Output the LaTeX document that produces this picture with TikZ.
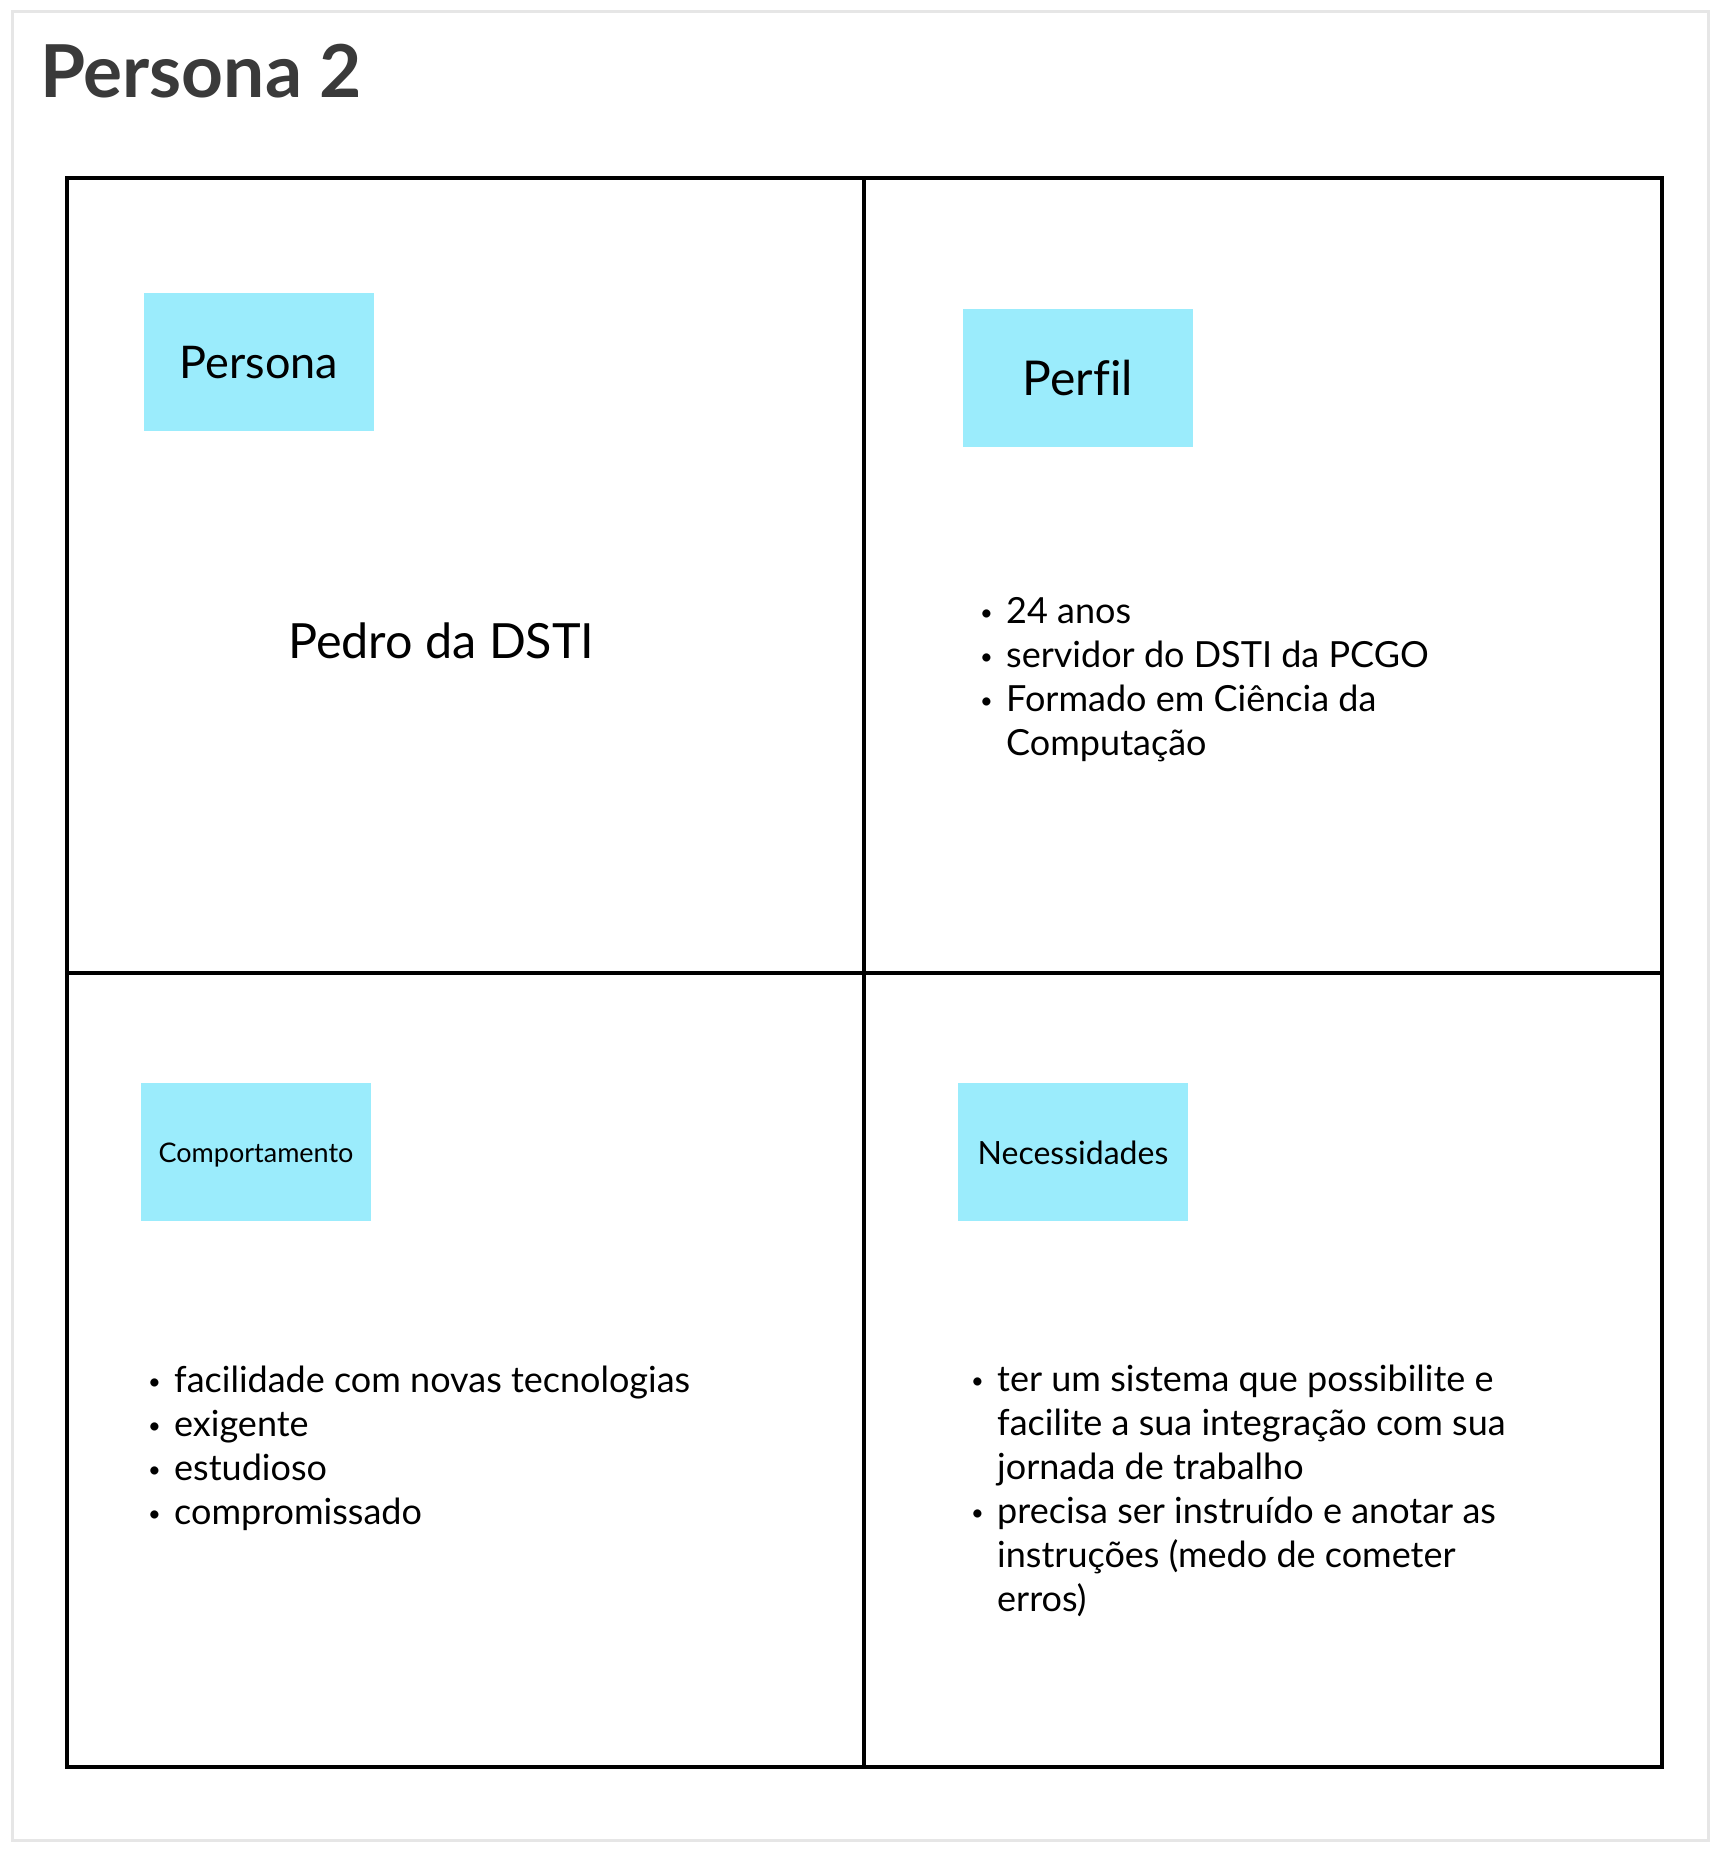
\documentclass[tikz,border=0pt]{standalone}
\usepackage{fontspec}
\setmainfont{Lato}[Ligatures={TeX,NoCommon}]
\definecolor{boxcyan}{RGB}{155,236,252}
\definecolor{titlegray}{RGB}{58,58,58}
\definecolor{framegray}{RGB}{230,230,230}
\tikzset{
  x=1pt, y=-1pt,
  tagbox/.style={fill=boxcyan, draw=none, inner sep=0pt, minimum width=230pt, minimum height=138pt},
  tagtext/.style={inner sep=0pt, anchor=base},
  listtext/.style={inner sep=0pt, anchor=base west, font=\fontsize{36}{44}\selectfont},
  gridline/.style={line width=4pt, draw=black},
}
\newcommand{\bul}{\makebox[28pt][l]{\hspace{2pt}\raisebox{3pt}{\fontsize{22}{22}\selectfont\textbullet}}}
\begin{document}
\begin{tikzpicture}
\useasboundingbox (0,0) rectangle (1720,1852);
\fill[white] (0,0) rectangle (1720,1852);
\draw[framegray, line width=3pt] (12,12) rectangle (1708,1840);

\node[inner sep=0pt, anchor=base west, text=titlegray, font=\fontsize{73}{84}\selectfont\bfseries] (title) at (40,97) {Persona 2};

% grid
\draw[gridline] (67,178) rectangle (1662,1767);
\draw[gridline] (864,178) -- (864,1767);
\draw[gridline] (67,973) -- (1662,973);

% tag boxes
\node[tagbox] (personabox) at (259,362) {};
\node[tagtext, font=\fontsize{45}{52}\selectfont] (personatxt) at (259,378) {Persona};
\node[tagbox] (perfilbox) at (1078,378) {};
\node[tagtext, font=\fontsize{48}{56}\selectfont] (perfiltxt) at (1078,395) {Perfil};
\node[tagbox] (compbox) at (256,1152) {};
\node[tagtext, font=\fontsize{27}{32}\selectfont] (comptxt) at (256,1162) {Comportamento};
\node[tagbox] (necbox) at (1073,1152) {};
\node[tagtext, font=\fontsize{32}{38}\selectfont] (nectxt) at (1073,1164) {Necessidades};

% name
\node[inner sep=0pt, anchor=base west, font=\fontsize{48.5}{56}\selectfont] (pedro) at (288,658) {Pedro da DSTI};

% lists
\node[listtext] (perfillist) at (978,623) {\begin{tabular}[t]{@{}l@{}l@{}}
\bul & 24 anos\\
\bul & servidor do DSTI da PCGO\\
\bul & Formado em Ciência da\\
 & Computação
\end{tabular}};

\node[listtext] (complist) at (146,1392) {\begin{tabular}[t]{@{}l@{}l@{}}
\bul & facilidade com novas tecnologias\\
\bul & exigente\\
\bul & estudioso\\
\bul & compromissado
\end{tabular}};

\node[listtext] (neclist) at (969,1391) {\begin{tabular}[t]{@{}l@{}l@{}}
\bul & ter um sistema que possibilite e\\
 & facilite a sua integração com sua\\
 & jornada de trabalho\\
\bul & precisa ser instruído e anotar as\\
 & instruções (medo de cometer\\
 & erros)
\end{tabular}};
\end{tikzpicture}
\end{document}
